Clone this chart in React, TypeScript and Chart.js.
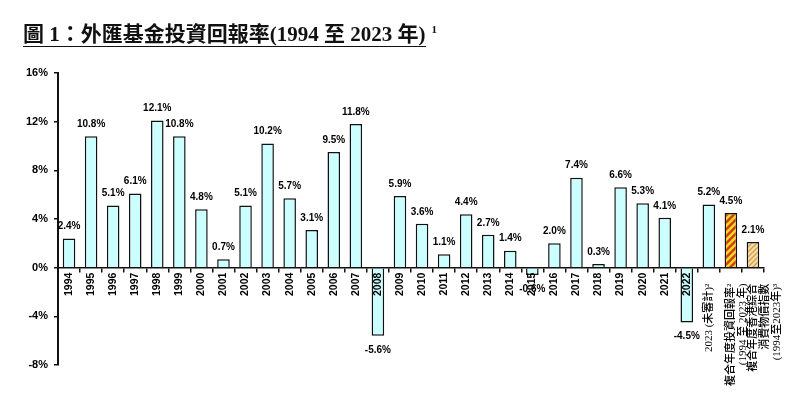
import React, { useEffect, useRef } from "react";
import { Chart, registerables } from "chart.js";

Chart.register(...registerables);

const YEARS = [
  "1994", "1995", "1996", "1997", "1998", "1999", "2000", "2001", "2002", "2003",
  "2004", "2005", "2006", "2007", "2008", "2009", "2010", "2011", "2012", "2013",
  "2014", "2015", "2016", "2017", "2018", "2019", "2020", "2021", "2022",
];
const EXTRA_LABELS: (string | string[])[] = [
  "2023 (未審計)²　",
  ["複合年度投資回報率²　", "(1994 至 2023 年)　"],
  ["複合年度香港綜合　", "消費物價指數　", "(1994至2023年)³　"],
];
const YEAR_RETURNS = [
  2.4, 10.8, 5.1, 6.1, 12.1, 10.8, 4.8, 0.7, 5.1, 10.2,
  5.7, 3.1, 9.5, 11.8, -5.6, 5.9, 3.6, 1.1, 4.4, 2.7,
  1.4, -0.6, 2.0, 7.4, 0.3, 6.6, 5.3, 4.1, -4.5,
];
const RETURN_2023 = 5.2;
const COMPOUND_RETURN = 4.5;
const COMPOUND_CPI = 2.1;
const Y_MIN = -8;
const Y_MAX = 16;
const Y_STEP = 4;

const TITLE = "圖 1：外匯基金投資回報率(1994 至 2023 年)";

function stripes(bg: string, fg: string, size: number, lw: number) {
  const c = document.createElement("canvas");
  c.width = size;
  c.height = size;
  const g = c.getContext("2d")!;
  g.fillStyle = bg;
  g.fillRect(0, 0, size, size);
  g.strokeStyle = fg;
  g.lineWidth = lw;
  g.beginPath();
  g.moveTo(-1, size + 1);
  g.lineTo(size + 1, -1);
  g.moveTo(-size / 2 - 1, size / 2 + 1);
  g.lineTo(size / 2 + 1, -size / 2 - 1);
  g.moveTo(size / 2 - 1, size * 1.5 + 1);
  g.lineTo(size * 1.5 + 1, size / 2 - 1);
  g.stroke();
  return g.createPattern(c, "repeat")!;
}

const valueLabels = {
  id: "valueLabels",
  afterDatasetsDraw(chart: any) {
    const ctx = chart.ctx;
    const meta = chart.getDatasetMeta(0);
    const data = chart.data.datasets[0].data as number[];
    ctx.save();
    ctx.font = "bold 10px 'Liberation Sans', Arial, sans-serif";
    ctx.fillStyle = "#000";
    ctx.textAlign = "center";
    ctx.textBaseline = "middle";
    meta.data.forEach((bar: any, i: number) => {
      const v = data[i];
      const y = v >= 0 ? bar.y - 12 : bar.y + 14;
      ctx.fillText(v.toFixed(1) + "%", bar.x, y);
    });
    ctx.restore();
  },
};

export default function App() {
  const ref = useRef<HTMLCanvasElement>(null);

  useEffect(() => {
    const labels = [...YEARS, ...EXTRA_LABELS];
    const values = [...YEAR_RETURNS, RETURN_2023, COMPOUND_RETURN, COMPOUND_CPI];
    const cyan = "#CCFFFF";
    const orange = stripes("#C8400A", "#FFD52A", 7, 2.6);
    const tan = stripes("#F7DDA6", "#D49A4E", 5, 1.3);
    const colors = values.map((_, i) =>
      i === values.length - 2 ? orange : i === values.length - 1 ? tan : cyan
    );

    const chart = new Chart(ref.current!, {
      type: "bar",
      data: {
        labels,
        datasets: [
          {
            data: values,
            backgroundColor: colors as any,
            borderColor: "#111",
            borderWidth: 1.5,
            barPercentage: 0.57,
            categoryPercentage: 1,
          },
        ],
      },
      plugins: [valueLabels],
      options: {
        animation: false,
        responsive: true,
        maintainAspectRatio: false,
        layout: { padding: { left: 8, right: 36, top: 73, bottom: 34 } },
        plugins: { legend: { display: false }, tooltip: { enabled: false } },
        scales: {
          x: {
            position: { y: 0 } as any,
            afterFit: (s: any) => {
              s.height = 0;
            },
            grid: {
              display: true,
              drawOnChartArea: false,
              drawTicks: true,
              tickLength: 4,
              color: "#111",
              lineWidth: 1.5,
              offset: true,
              z: 1,
            },
            border: { display: true, color: "#111", width: 1.5, z: 1 },
            ticks: {
              z: 1,
              autoSkip: false,
              minRotation: 90,
              maxRotation: 90,
              padding: 1,
              color: "#000",
              font: (c: any) =>
                c.index >= YEARS.length
                  ? { family: "'Liberation Serif', 'Noto Sans CJK TC', serif", size: 11, weight: "500", lineHeight: 1.1 }
                  : { family: "'Liberation Sans', Arial, sans-serif", size: 10.5, weight: "bold" },
            } as any,
          },
          y: {
            min: Y_MIN,
            max: Y_MAX,
            afterFit: (s: any) => {
              s.width = 50;
            },
            grid: {
              display: true,
              drawOnChartArea: false,
              drawTicks: true,
              tickLength: 4,
              color: "#111",
              lineWidth: 1.5,
            },
            border: { display: true, color: "#111", width: 2 },
            ticks: {
              stepSize: Y_STEP,
              padding: 6,
              color: "#000",
              font: { family: "'Liberation Sans', Arial, sans-serif", size: 11, weight: "bold" },
              callback: (v: any) => v + "%",
            },
          },
        },
      },
    });
    return () => chart.destroy();
  }, []);

  return (
    <div style={{ position: "absolute", left: 0, top: 0, width: 800, height: 399, background: "#fff" }}>
      <div
        style={{
          position: "absolute",
          left: 23,
          top: 17,
          fontFamily: "'Liberation Serif', 'Noto Sans CJK TC', serif",
          fontWeight: "bold",
          fontSize: 21,
          color: "#111",
          whiteSpace: "nowrap",
          lineHeight: "24px",
        }}
      >
        <span style={{ borderBottom: "1.5px solid #111" }}>{TITLE}</span>
        <span style={{ fontSize: 11, verticalAlign: 8, marginLeft: 6 }}>1</span>
      </div>
      <canvas ref={ref} width={800} height={399} />
    </div>
  );
}
